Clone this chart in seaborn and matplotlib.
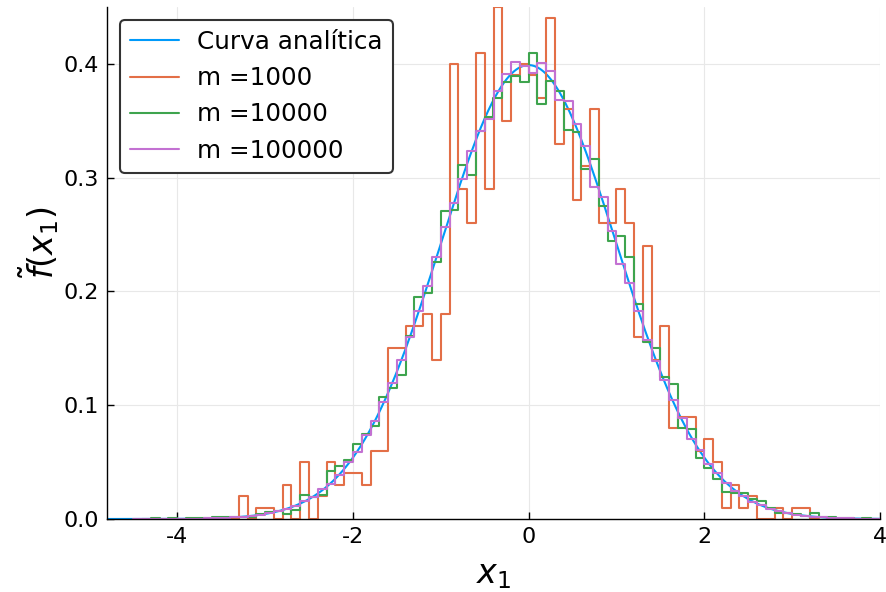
import numpy as np
import pandas as pd
import matplotlib
matplotlib.use("Agg")
import matplotlib.pyplot as plt
import seaborn as sns

# ---------------- data ----------------
bin_width = 0.1

# m = 1000 : first bin starts at -3.4 (zero padding at both ends)
m1000_start = -3.4
m1000_vals = [0.00,
              0.02, 0.00, 0.01, 0.01, 0.00, 0.03, 0.00, 0.05, 0.00, 0.02,   # -3.3 .. -2.4
              0.05, 0.03, 0.04, 0.04, 0.03, 0.06, 0.06,                     # -2.3 .. -1.7
              0.15, 0.15, 0.17, 0.17, 0.18, 0.14, 0.18,                     # -1.6 .. -1.0
              0.40, 0.29, 0.26, 0.41, 0.29, 0.45, 0.35, 0.39, 0.40,         # -0.9 .. -0.1
              0.39, 0.37, 0.44, 0.33, 0.36, 0.28, 0.31, 0.36, 0.26, 0.26,   #  0.0 ..  0.9
              0.29, 0.26, 0.16, 0.24, 0.14, 0.17, 0.08, 0.09, 0.09, 0.06,   #  1.0 ..  1.9
              0.07, 0.05, 0.01, 0.03, 0.01, 0.02, 0.00, 0.00, 0.01, 0.00,   #  2.0 ..  2.9
              0.01, 0.01,                                                   #  3.0 ..  3.1
              0.00]

# m = 10000 : first bin starts at -4.4
m10000_start = -4.4
m10000_vals = [0.000,
               0.001, 0.000, 0.001, 0.000, 0.001, 0.001, 0.001, 0.002, 0.002, 0.002,  # -4.3 .. -3.4
               0.002, 0.002, 0.004, 0.006, 0.007, 0.004, 0.008, 0.021, 0.019, 0.021,  # -3.3 .. -2.4
               0.042, 0.047, 0.052, 0.066, 0.075, 0.082, 0.107, 0.115, 0.127, 0.161,  # -2.3 .. -1.4
               0.195, 0.199, 0.226, 0.271, 0.272, 0.311, 0.302, 0.341, 0.353, 0.370,  # -1.3 .. -0.4
               0.384, 0.389, 0.384, 0.410, 0.365, 0.385, 0.376, 0.342, 0.340, 0.308,  # -0.3 ..  0.6
               0.316, 0.275, 0.244, 0.249, 0.230, 0.189, 0.156, 0.150, 0.125, 0.119,  #  0.7 ..  1.6
               0.080, 0.079, 0.054, 0.045, 0.035, 0.024, 0.023, 0.023, 0.018, 0.016,  #  1.7 ..  2.6
               0.010, 0.005, 0.005, 0.004, 0.003, 0.005, 0.002, 0.002, 0.001, 0.001,  #  2.7 ..  3.6
               0.000, 0.001,                                                          #  3.7 ..  3.8
               0.000]

# m = 100000 : first bin starts at -4.5
m100000_start = -4.5
m100000_vals = [0.0000,
                0.0001, 0.0001, 0.0001, 0.0001, 0.0002, 0.0002, 0.0004, 0.0005, 0.0007, 0.0010,  # -4.4 .. -3.5
                0.0015, 0.0019, 0.0028, 0.0037, 0.0052, 0.0068, 0.0092, 0.0118, 0.0156, 0.0196,  # -3.4 .. -2.5
                0.0265, 0.0305, 0.0385, 0.0505, 0.0590, 0.0735, 0.0860, 0.1030, 0.1195, 0.1400,  # -2.4 .. -1.5
                0.1600, 0.1830, 0.2050, 0.2300, 0.2570, 0.2780, 0.2990, 0.3230, 0.3410, 0.3520,  # -1.4 .. -0.5
                0.3760, 0.3910, 0.4020, 0.3980, 0.3920, 0.4010, 0.3940, 0.3685, 0.3670, 0.3470,  # -0.4 ..  0.5
                0.3280, 0.2920, 0.2830, 0.2530, 0.2240, 0.2070, 0.1830, 0.1570, 0.1390, 0.1218,  #  0.6 ..  1.5
                0.1050, 0.0890, 0.0700, 0.0610, 0.0480, 0.0400, 0.0320, 0.0250, 0.0200, 0.0152,  #  1.6 ..  2.5
                0.0120, 0.0090, 0.0070, 0.0050, 0.0038, 0.0028, 0.0020, 0.0015, 0.0010, 0.0007,  #  2.6 ..  3.5
                0.0005, 0.0003, 0.0002, 0.0002, 0.0001, 0.0001,                                  #  3.6 ..  4.1
                0.0000]

series_labels = ["m =1000", "m =10000", "m =100000"]
curve_label = "Curva analítica"
x_ticks = [-4, -2, 0, 2, 4]
y_ticks = [0.0, 0.1, 0.2, 0.3, 0.4]

# ---------------- style ----------------
sns.set_theme(style="white")
plt.rcParams["font.family"] = ["DejaVu Sans"]
plt.rcParams["mathtext.fontset"] = "dejavusans"
plt.rcParams["text.color"] = "black"
plt.rcParams["axes.labelcolor"] = "black"

c_blue, c_orange, c_green, c_purple = "#009AFA", "#E36F47", "#3EA44E", "#C371D2"
lw = 1.5

fig = plt.figure(figsize=(8.86, 5.92), dpi=100)
ax = fig.add_axes([107 / 886, 1 - 519 / 592, 773 / 886, 512 / 592])

# analytic curve
xs = np.linspace(-4.8, 4.0, 800)
ys = np.exp(-xs ** 2 / 2) / np.sqrt(2 * np.pi)
curve_df = pd.DataFrame({"x": xs, "y": ys})
sns.lineplot(data=curve_df, x="x", y="y", color=c_blue, linewidth=lw,
             label=curve_label, ax=ax, sort=False, errorbar=None)


def step_hist(start, vals, color, label):
    vals = np.asarray(vals, dtype=float)
    edges = start + bin_width * np.arange(len(vals) + 1)
    centers = edges[:-1] + bin_width / 2
    df = pd.DataFrame({"x": centers, "w": vals})
    sns.histplot(data=df, x="x", weights="w", bins=edges.tolist(), element="step",
                 fill=False, stat="count", color=color, linewidth=lw, label=label, ax=ax)


step_hist(m1000_start, m1000_vals, c_orange, series_labels[0])
step_hist(m10000_start, m10000_vals, c_green, series_labels[1])
step_hist(m100000_start, m100000_vals, c_purple, series_labels[2])

ax.set_xlim(-4.8, 4.0)
ax.set_ylim(0, 0.45)
ax.set_xticks(x_ticks)
ax.set_xticklabels([str(t) for t in x_ticks])
ax.set_yticks(y_ticks)
ax.set_yticklabels([f"{t:.1f}" for t in y_ticks])

ax.grid(True, color="#e8e8e8", linewidth=0.8)
ax.set_axisbelow(True)
for s in ["top", "right"]:
    ax.spines[s].set_visible(False)
for s in ["left", "bottom"]:
    ax.spines[s].set_color("black")
    ax.spines[s].set_linewidth(1.0)
ax.tick_params(axis="both", direction="in", length=5, width=1, colors="black",
               labelsize=16, left=True, bottom=True, pad=6)

ax.set_xlabel(r"$x_1$", fontsize=24, labelpad=8, color="black")
ax.set_ylabel(r"$\tilde{f}(x_1)$", fontsize=24, color="black")
ax.yaxis.set_label_coords(-0.060, 0.54)

leg = ax.legend(loc="upper left", bbox_to_anchor=(13 / 773, 1 - 13 / 512), borderaxespad=0,
                fontsize=17.7, frameon=True, fancybox=True, edgecolor="#333333",
                framealpha=1, handlelength=2.0, handletextpad=0.75, labelspacing=0.5,
                borderpad=0.4)
leg.get_frame().set_linewidth(1.5)
for t in leg.get_texts():
    t.set_color("black")

fig.savefig("out.png", dpi=100)
